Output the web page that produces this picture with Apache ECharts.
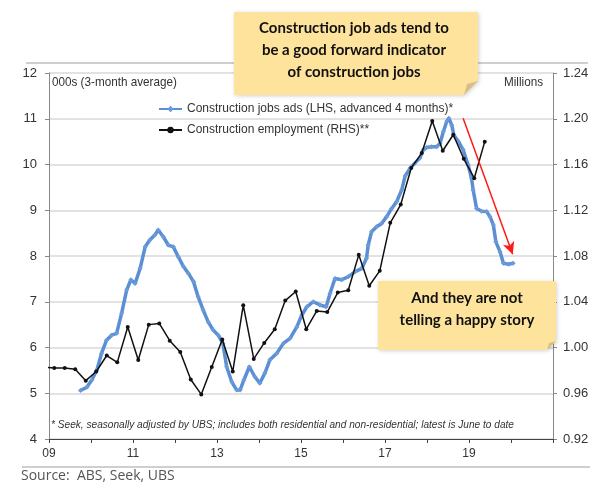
<!DOCTYPE html>
<html>
<head>
<meta charset="utf-8">
<script src="https://cdn.jsdelivr.net/npm/echarts@6/dist/echarts.min.js"></script>
<style>
html,body{margin:0;padding:0;background:#fff;}
#chart{width:601px;height:501px;}
</style>
</head>
<body>
<div id="chart"></div>
<script>
// Construction job ads (LHS, 000s, advanced 4 months) - year as decimal
var adsYears = [2009.75,2009.90,2010.02,2010.14,2010.25,2010.37,2010.49,2010.61,2010.73,2010.85,2010.95,
    2011.05,2011.17,2011.29,2011.40,2011.52,2011.60,2011.72,2011.84,2011.96,2012.08,2012.20,2012.32,2012.44,
    2012.55,2012.67,2012.79,2012.91,2013.03,2013.14,2013.23,2013.35,2013.47,2013.55,2013.64,2013.77,2013.90,
    2014.02,2014.14,2014.26,2014.42,2014.58,2014.74,2014.90,2015.02,2015.14,2015.29,2015.45,2015.60,2015.69,
    2015.81,2015.97,2016.13,2016.29,2016.45,2016.56,2016.60,2016.68,2016.80,2016.92,2017.04,2017.16,2017.28,
    2017.40,2017.48,2017.60,2017.71,2017.83,2017.91,2017.99,2018.11,2018.23,2018.31,2018.39,2018.47,2018.52,
    2018.59,2018.64,2018.75,2018.86,2018.98,2019.06,2019.10,2019.18,2019.30,2019.42,2019.50,2019.58,2019.64,
    2019.74,2019.82,2019.94,2020.05];
var adsValues = [5.06,5.13,5.29,5.51,5.87,6.16,6.27,6.31,6.75,7.26,7.48,
    7.40,7.73,8.20,8.35,8.46,8.57,8.42,8.24,8.20,7.98,7.77,7.62,7.44,
    7.11,6.82,6.56,6.38,6.27,6.09,5.58,5.25,5.07,5.07,5.29,5.58,5.36,
    5.22,5.44,5.73,5.87,6.09,6.20,6.45,6.71,6.89,7.00,6.93,6.89,7.18,
    7.51,7.48,7.55,7.66,7.73,7.95,8.24,8.53,8.64,8.71,8.86,9.04,9.19,
    9.45,9.75,9.92,10.03,10.14,10.32,10.37,10.39,10.39,10.46,10.72,10.94,11.01,
    10.86,10.64,10.50,10.32,9.99,9.70,9.44,9.04,8.98,8.97,8.86,8.68,8.31,
    8.09,7.84,7.82,7.84];

// Construction employment (RHS, millions), quarterly
var empYears = [2008.875,2009.125,2009.375,2009.625,2009.875,2010.125,2010.375,2010.625,2010.875,
    2011.125,2011.375,2011.625,2011.875,2012.125,2012.375,2012.625,2012.875,2013.125,2013.375,2013.625,
    2013.875,2014.125,2014.375,2014.625,2014.875,2015.125,2015.375,2015.625,2015.875,2016.125,2016.375,
    2016.625,2016.875,2017.125,2017.375,2017.625,2017.875,2018.125,2018.375,2018.625,2018.875,2019.125,2019.375];
var empValues = [0.983,0.982,0.982,0.981,0.971,0.979,0.993,0.987,1.018,
    0.989,1.020,1.021,1.006,0.996,0.972,0.959,0.983,1.007,0.979,1.037,
    0.990,1.004,1.016,1.041,1.049,1.016,1.032,1.031,1.048,1.050,1.081,
    1.054,1.067,1.109,1.125,1.157,1.170,1.198,1.172,1.186,1.165,1.148,1.180];

var xLabels = ['09','11','13','15','17','19'];
var arrowFrom = [2018.86, 11.01];
var arrowTo = [2020.04, 8.04];

var sans = 'Arial, "Liberation Sans", sans-serif';
var hand = 'Lato, "Noto Sans", sans-serif';

function pairs(xs, ys){
    var out = [];
    for (var i = 0; i < xs.length; i++) out.push([xs[i], ys[i]]);
    return out;
}

var chart = echarts.init(document.getElementById('chart'), null, {renderer: 'canvas'});
var option = {
    backgroundColor: '#fff',
    animation: false,
    grid: {left: 49, right: 48, top: 73, bottom: 62, containLabel: false},
    legend: {
        orient: 'vertical',
        left: 153,
        top: 98,
        itemWidth: 23,
        itemHeight: 8,
        itemGap: 9,
        textStyle: {fontFamily: sans, fontSize: 12, color: '#333'},
        data: ['Construction jobs ads (LHS, advanced 4 months)*', 'Construction employment (RHS)**']
    },
    xAxis: {
        type: 'value',
        min: 2009,
        max: 2021,
        interval: 1,
        splitLine: {show: false},
        axisLine: {lineStyle: {color: '#444', width: 1}},
        axisTick: {length: 4, lineStyle: {color: '#444'}},
        axisLabel: {
            fontFamily: sans, fontSize: 12, color: '#333', margin: 9,
            formatter: function (v) {
                var s = String(v).slice(2);
                return xLabels.indexOf(s) >= 0 ? s : '';
            }
        }
    },
    yAxis: [{
        type: 'value',
        min: 4,
        max: 12,
        interval: 1,
        axisLine: {show: true, lineStyle: {color: '#888', width: 1}},
        axisTick: {show: true, length: 4, lineStyle: {color: '#888'}},
        axisLabel: {fontFamily: sans, fontSize: 13, color: '#333', margin: 12},
        splitLine: {lineStyle: {color: '#d9d9d9', width: 1.5}}
    }, {
        type: 'value',
        min: 0.92,
        max: 1.24,
        interval: 0.04,
        axisLine: {show: true, lineStyle: {color: '#888', width: 1}},
        axisTick: {show: true, length: 4, lineStyle: {color: '#888'}},
        axisLabel: {fontFamily: sans, fontSize: 13, color: '#333', margin: 10,
            formatter: function (v) { return v.toFixed(2); }},
        splitLine: {show: false}
    }],
    series: [{
        name: 'Construction jobs ads (LHS, advanced 4 months)*',
        type: 'line',
        yAxisIndex: 0,
        data: pairs(adsYears, adsValues),
        symbol: 'diamond',
        symbolSize: 5,
        showAllSymbol: true,
        itemStyle: {color: '#6a9bd8'},
        lineStyle: {color: '#5b8fd4', width: 3.5},
        z: 2,
        markLine: {
            silent: true,
            symbol: ['none', 'arrow'],
            symbolSize: [9, 12],
            label: {show: false},
            lineStyle: {color: '#ff1a1a', width: 1.5, type: 'solid'},
            data: [[{coord: arrowFrom}, {coord: arrowTo}]]
        }
    }, {
        name: 'Construction employment (RHS)**',
        type: 'line',
        yAxisIndex: 1,
        data: pairs(empYears, empValues),
        symbol: 'circle',
        symbolSize: 4,
        showAllSymbol: true,
        itemStyle: {color: '#111'},
        lineStyle: {color: '#111', width: 1.5},
        z: 3
    }],
    graphic: [
        // frame lines
        {type: 'line', shape: {x1: 26, y1: 63, x2: 588, y2: 63}, style: {stroke: '#cfcfcf', lineWidth: 2}},
        {type: 'line', shape: {x1: 22, y1: 467, x2: 590, y2: 467}, style: {stroke: '#cfcfcf', lineWidth: 2}},
        {type: 'text', x: 52, y: 82, scaleX: 0.9, style: {text: '000s (3-month average)', verticalAlign: 'middle',
            fontFamily: sans, fontSize: 13, fill: '#333'}},
        {type: 'text', x: 543, y: 82, scaleX: 0.9, style: {text: 'Millions', align: 'right', verticalAlign: 'middle',
            fontFamily: sans, fontSize: 13, fill: '#333'}},
        {type: 'text', x: 51, y: 425, scaleX: 0.92, style: {
            text: '* Seek, seasonally adjusted by UBS; includes both residential and non-residential; latest is June to date',
            verticalAlign: 'middle', fontFamily: sans, fontSize: 11, fontStyle: 'italic', fill: '#333'}},
        {type: 'text', left: 21, top: 469, style: {text: 'Source:  ABS, Seek, UBS', fontFamily: '"Open Sans", sans-serif', fontSize: 14, fill: '#555'}},
        // note 1
        {type: 'polygon', shape: {points: [[234, 12], [478, 12], [478, 81], [464, 95], [234, 95]]},
            style: {fill: '#fde39c', shadowBlur: 4, shadowColor: 'rgba(0,0,0,0.18)', shadowOffsetX: 1, shadowOffsetY: 1}, z: 10},
        {type: 'polygon', shape: {points: [[478, 81], [464, 95], [467, 84]]}, style: {fill: '#d8bf88'}, z: 11},
        {type: 'text', z: 12, style: {
            text: 'Construction job ads tend to\nbe a good forward indicator\nof construction jobs',
            x: 354, y: 50, align: 'center', verticalAlign: 'middle', lineHeight: 22,
            fontFamily: hand, fontSize: 15, fontWeight: 'bold', fill: '#111'}},
        // note 2
        {type: 'polygon', shape: {points: [[378, 281], [556, 281], [556, 341], [547, 350], [378, 350]]},
            style: {fill: '#fde39c', shadowBlur: 4, shadowColor: 'rgba(0,0,0,0.18)', shadowOffsetX: 1, shadowOffsetY: 1}, z: 10},
        {type: 'polygon', shape: {points: [[556, 341], [547, 350], [549, 343]]}, style: {fill: '#d8bf88'}, z: 11},
        {type: 'text', z: 12, style: {
            text: 'And they are not\ntelling a happy story',
            x: 467, y: 309, align: 'center', verticalAlign: 'middle', lineHeight: 22,
            fontFamily: hand, fontSize: 15, fontWeight: 'bold', fill: '#111'}}
    ]
};
chart.setOption(option);
</script>
</body>
</html>
